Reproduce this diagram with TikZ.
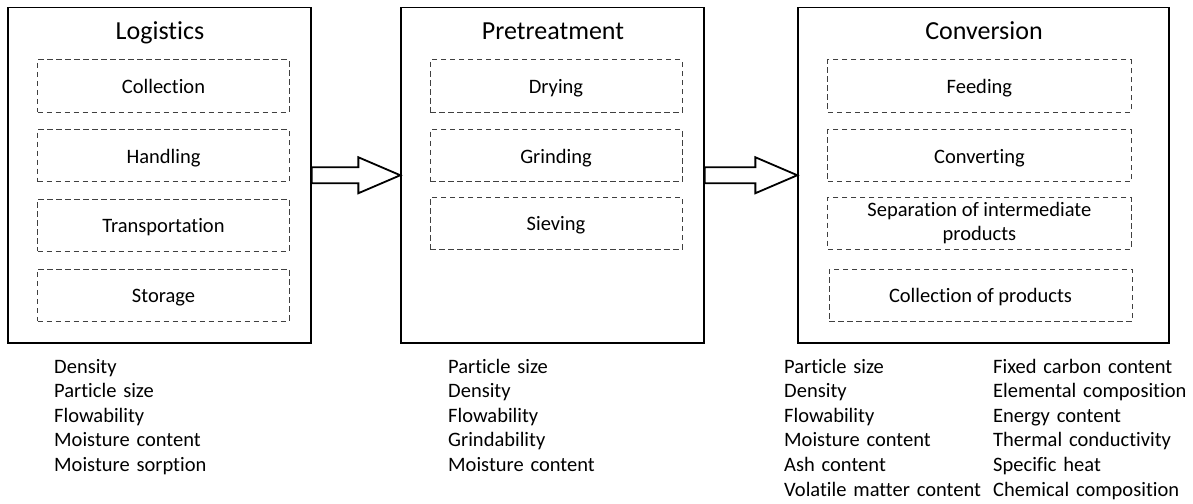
\documentclass[tikz,border=0pt]{standalone}
\usepackage{fontspec}
\setmainfont{Carlito}[RawFeature={-liga}]
\usetikzlibrary{calc}
\begin{document}
\begin{tikzpicture}[x=1pt,y=-1pt,
  stage/.style={draw=black,line width=1.3pt,inner sep=0pt},
  task/.style={draw=black!75,line width=1pt,dash pattern=on 5.5pt off 3.5pt,inner sep=0pt,align=center,
    font=\fontsize{20.5}{24.3}\selectfont},
  task1/.style={task,text height=18pt,text depth=3pt},
  ttl/.style={inner sep=0pt,anchor=base,font=\fontsize{26}{30}\selectfont},
  plist/.style={inner sep=0pt,anchor=base west,text width=210pt,align=left,
    font=\fontsize{20.5}{24.6}\selectfont},
  blockarrow/.style={draw=black,fill=white,line width=1.8pt,line join=miter}]
\useasboundingbox (0,0) rectangle (1193,503);
% stages
\node[stage,minimum width=303pt,minimum height=335.5pt] (log) at (159.5,175.25) {};
\node[stage,minimum width=303pt,minimum height=335.5pt] (pre) at (552.5,175.25) {};
\node[stage,minimum width=371pt,minimum height=335.5pt] (con) at (983.5,175.25) {};
% titles
\node[ttl] (tlog) at (160,40) {Logistics};
\node[ttl] (tpre) at (553,40) {Pretreatment};
\node[ttl] (tcon) at (984,40) {Conversion};
% logistics tasks
\node[task1,minimum width=251.6pt,minimum height=52pt] (l1) at (163.5,86) {Collection};
\node[task1,minimum width=251.6pt,minimum height=52pt] (l2) at (163.5,155.7) {Handling};
\node[task1,minimum width=251.6pt,minimum height=52pt] (l3) at (163.5,225.3) {Transportation};
\node[task1,minimum width=251.6pt,minimum height=52pt] (l4) at (163.5,295) {Storage};
% pretreatment tasks
\node[task1,minimum width=252pt,minimum height=52pt] (p1) at (556,86) {Drying};
\node[task1,minimum width=252pt,minimum height=52pt] (p2) at (556,155.7) {Grinding};
\node[task1,minimum width=252pt,minimum height=52pt] (p3) at (556,223.2) {Sieving};
% conversion tasks
\node[task1,minimum width=303.3pt,minimum height=52pt] (c1) at (979.4,86) {Feeding};
\node[task1,minimum width=303.3pt,minimum height=52pt] (c2) at (979.4,155.7) {Converting};
\node[task,minimum width=303.3pt,minimum height=52pt] (c3) at (979.4,223.2) {Separation of intermediate\\products};
\node[task1,minimum width=303pt,minimum height=52pt] (c4) at (980.5,295) {Collection of products};
% block arrows
\draw[blockarrow] ($(log.east)+(0,-8)$) -- ($(pre.west)+(-42,-8)$) -- ($(pre.west)+(-42,-18)$)
  -- (pre.west) -- ($(pre.west)+(-42,18)$) -- ($(pre.west)+(-42,8)$) -- ($(log.east)+(0,8)$) -- cycle;
\draw[blockarrow] ($(pre.east)+(0,-8)$) -- ($(con.west)+(-42,-8)$) -- ($(con.west)+(-42,-18)$)
  -- (con.west) -- ($(con.west)+(-42,18)$) -- ($(con.west)+(-42,8)$) -- ($(pre.east)+(0,8)$) -- cycle;
% property lists
\node[plist] (llist) at (54,373) {Density\\Particle size\\Flowability\\Moisture content\\Moisture sorption};
\node[plist] (plst) at (448,373) {Particle size\\Density\\Flowability\\Grindability\\Moisture content};
\node[plist] (clist1) at (784,373) {Particle size\\Density\\Flowability\\Moisture content\\Ash content\\Volatile matter content};
\node[plist] (clist2) at (993,373) {Fixed carbon content\\Elemental composition\\Energy content\\Thermal conductivity\\Specific heat\\Chemical composition};
\end{tikzpicture}
\end{document}
